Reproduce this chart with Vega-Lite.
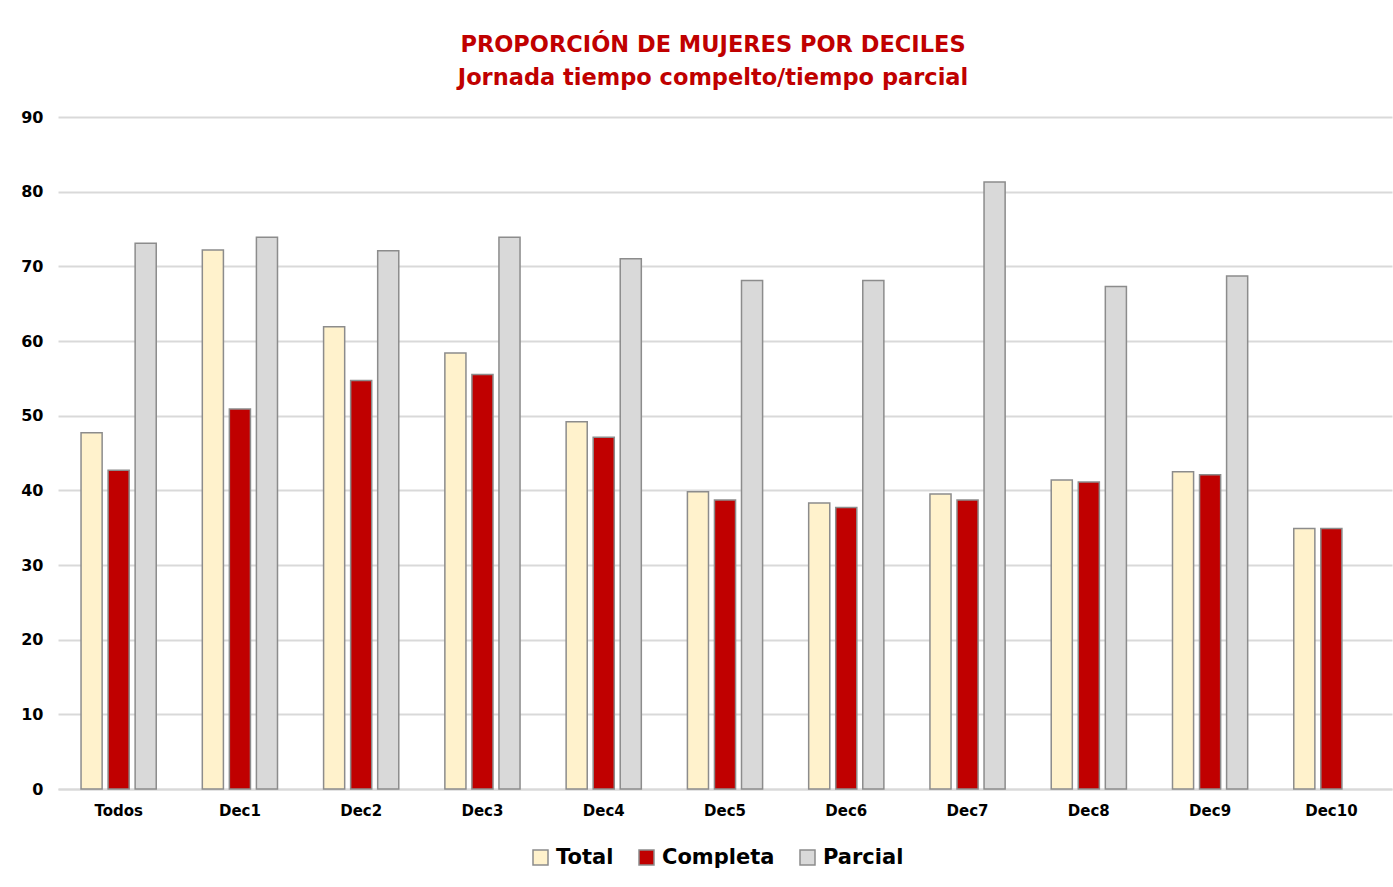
{
  "$schema": "https://vega.github.io/schema/vega-lite/v6.json",
  "width": 1334,
  "height": 672,
  "autosize": {"type": "none"},
  "padding": {"left": 58, "top": 117, "right": 1, "bottom": 98},
  "background": "white",
  "title": {
    "text": ["PROPORCIÓN DE MUJERES POR DECILES", "Jornada tiempo compelto/tiempo parcial"],
    "color": "#C00000",
    "font": "DejaVu Sans",
    "fontWeight": "bold",
    "fontSize": 22.5,
    "lineHeight": 33,
    "anchor": "middle",
    "dx": -12,
    "offset": 20
  },
  "config": {
    "view": {"stroke": null},
    "font": "DejaVu Sans"
  },
  "data": {
    "values": [
      {"decil": "Todos", "serie": "Total", "valor": 47.7},
      {"decil": "Todos", "serie": "Completa", "valor": 42.7},
      {"decil": "Todos", "serie": "Parcial", "valor": 73.1},
      {"decil": "Dec1", "serie": "Total", "valor": 72.2},
      {"decil": "Dec1", "serie": "Completa", "valor": 50.9},
      {"decil": "Dec1", "serie": "Parcial", "valor": 73.9},
      {"decil": "Dec2", "serie": "Total", "valor": 61.9},
      {"decil": "Dec2", "serie": "Completa", "valor": 54.7},
      {"decil": "Dec2", "serie": "Parcial", "valor": 72.1},
      {"decil": "Dec3", "serie": "Total", "valor": 58.4},
      {"decil": "Dec3", "serie": "Completa", "valor": 55.5},
      {"decil": "Dec3", "serie": "Parcial", "valor": 73.9},
      {"decil": "Dec4", "serie": "Total", "valor": 49.2},
      {"decil": "Dec4", "serie": "Completa", "valor": 47.1},
      {"decil": "Dec4", "serie": "Parcial", "valor": 71.0},
      {"decil": "Dec5", "serie": "Total", "valor": 39.8},
      {"decil": "Dec5", "serie": "Completa", "valor": 38.7},
      {"decil": "Dec5", "serie": "Parcial", "valor": 68.1},
      {"decil": "Dec6", "serie": "Total", "valor": 38.3},
      {"decil": "Dec6", "serie": "Completa", "valor": 37.7},
      {"decil": "Dec6", "serie": "Parcial", "valor": 68.1},
      {"decil": "Dec7", "serie": "Total", "valor": 39.5},
      {"decil": "Dec7", "serie": "Completa", "valor": 38.7},
      {"decil": "Dec7", "serie": "Parcial", "valor": 81.3},
      {"decil": "Dec8", "serie": "Total", "valor": 41.4},
      {"decil": "Dec8", "serie": "Completa", "valor": 41.1},
      {"decil": "Dec8", "serie": "Parcial", "valor": 67.3},
      {"decil": "Dec9", "serie": "Total", "valor": 42.5},
      {"decil": "Dec9", "serie": "Completa", "valor": 42.1},
      {"decil": "Dec9", "serie": "Parcial", "valor": 68.7},
      {"decil": "Dec10", "serie": "Total", "valor": 34.9},
      {"decil": "Dec10", "serie": "Completa", "valor": 34.9}
    ]
  },
  "mark": {"type": "bar", "stroke": "#8c8c8c", "strokeWidth": 1.5},
  "encoding": {
    "x": {
      "field": "decil",
      "type": "nominal",
      "sort": ["Todos", "Dec1", "Dec2", "Dec3", "Dec4", "Dec5", "Dec6", "Dec7", "Dec8", "Dec9", "Dec10"],
      "scale": {"paddingInner": 0.38, "paddingOuter": 0.19},
      "axis": {
        "title": null,
        "labelAngle": 0,
        "labelFont": "DejaVu Sans",
        "labelFontWeight": "bold",
        "labelFontSize": 15,
        "labelColor": "#000000",
        "labelPadding": 14,
        "ticks": false,
        "domainColor": "#D9D9D9",
        "domainWidth": 2
      }
    },
    "xOffset": {
      "field": "serie",
      "type": "nominal",
      "sort": ["Total", "Completa", "Parcial"],
      "scale": {"paddingInner": 0.22, "paddingOuter": 0}
    },
    "y": {
      "field": "valor",
      "type": "quantitative",
      "scale": {"domain": [0, 90], "nice": false},
      "axis": {
        "title": null,
        "values": [0, 10, 20, 30, 40, 50, 60, 70, 80, 90],
        "labelFont": "DejaVu Sans",
        "labelFontWeight": "bold",
        "labelFontSize": 16,
        "labelColor": "#000000",
        "labelPadding": 15,
        "ticks": false,
        "domain": false,
        "gridColor": "#D9D9D9",
        "gridWidth": 2
      }
    },
    "color": {
      "field": "serie",
      "type": "nominal",
      "sort": ["Total", "Completa", "Parcial"],
      "scale": {"domain": ["Total", "Completa", "Parcial"], "range": ["#FFF2CC", "#C00000", "#D9D9D9"]},
      "legend": {
        "title": null,
        "orient": "none",
        "direction": "horizontal",
        "legendX": 472,
        "legendY": 730,
        "symbolType": "square",
        "symbolSize": 225,
        "symbolStrokeColor": "#8c8c8c",
        "symbolStrokeWidth": 1.5,
        "labelFont": "DejaVu Sans",
        "labelFontWeight": "bold",
        "labelFontSize": 21,
        "labelColor": "#000000",
        "labelOffset": 5,
        "columnPadding": 22
      }
    }
  }
}
